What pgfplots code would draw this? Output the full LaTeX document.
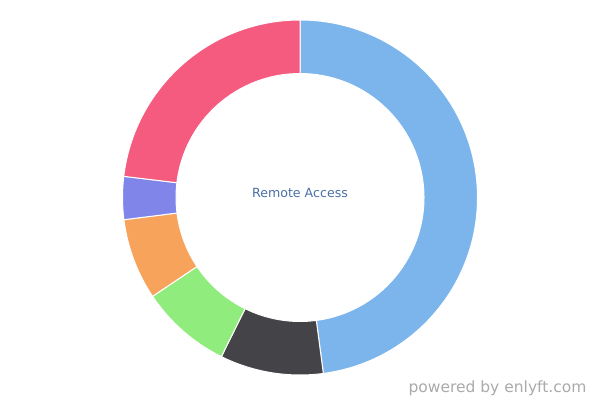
\documentclass[border=0pt]{standalone}
\usepackage{pgfplots}
\usepackage{pgfplotstable}
\usepackage{fontspec}
\pgfplotsset{compat=1.18}
\setmainfont{DejaVu Sans}

\definecolor{c1}{HTML}{7CB5EC}
\definecolor{c2}{HTML}{434348}
\definecolor{c3}{HTML}{90ED7D}
\definecolor{c4}{HTML}{F7A35C}
\definecolor{c5}{HTML}{8085E9}
\definecolor{c6}{HTML}{F45B7F}
\definecolor{labelblue}{HTML}{4A6FA5}
\definecolor{credit}{HTML}{AAAAAA}

% shares of the ring, clockwise from 12 o'clock
\pgfplotstableread{
value colour
47.9  c1
9.4   c2
8.3   c3
7.4   c4
3.9   c5
23.1  c6
}\shares

\begin{document}
\begin{tikzpicture}
  \begin{axis}[
    scale only axis,
    width=600pt, height=400pt,
    xmin=0, xmax=600, ymin=0, ymax=400,
    hide axis,
    clip=false,
    ]
    \addplot[draw=none] coordinates {(0,0) (600,400)};
    \pgfplotsextra{
      \pgfplotstablegetrowsof{\shares}
      \pgfmathtruncatemacro\last{\pgfplotsretval-1}
      \gdef\total{0}
      \foreach \i in {0,...,\last}{
        \pgfplotstablegetelem{\i}{value}\of\shares
        \pgfmathsetmacro\t{\total+\pgfplotsretval}
        \xdef\total{\t}
      }
      \gdef\startang{90}
      \foreach \i in {0,...,\last}{
        \pgfplotstablegetelem{\i}{value}\of\shares
        \pgfmathsetmacro\endang{\startang-\pgfplotsretval/\total*360}
        \pgfplotstablegetelem{\i}{colour}\of\shares
        \let\col\pgfplotsretval
        \fill[\col, draw=white, line width=1pt, line join=round]
          (axis cs:300,202.5) ++(\startang:177.5pt)
          arc[start angle=\startang, end angle=\endang, radius=177.5pt]
          -- ++(\endang:-53.5pt)
          arc[start angle=\endang, end angle=\startang, radius=124pt]
          -- cycle;
        \xdef\startang{\endang}
      }
    }
    \node[text=labelblue, font=\fontsize{12.6}{14}\selectfont]
      at (axis cs:300,207) {Remote Access};
    \node[text=credit, font=\fontsize{15.5}{17}\selectfont, anchor=east]
      at (axis cs:590,12) {powered by enlyft.com};
  \end{axis}
\end{tikzpicture}
\end{document}
